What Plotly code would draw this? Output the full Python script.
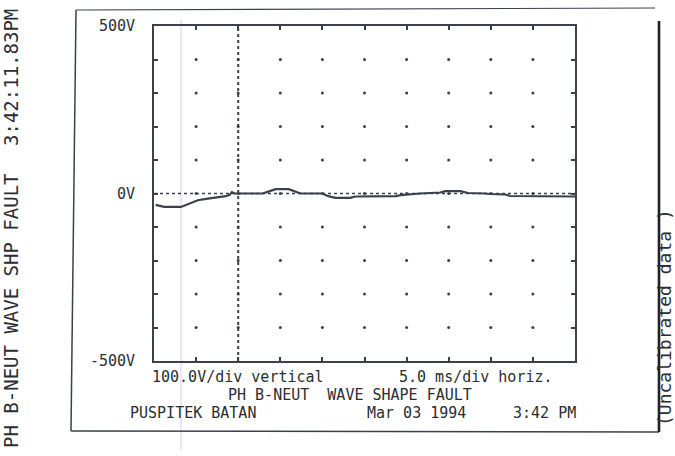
import numpy as np
import plotly.graph_objects as go

# ---- data ----
time_ms = [-9.8, -8.8, -6.8, -6.2, -4.8, -3.8, -2.65, -1.5, -1.0, -0.75, -0.4, 2.9, 3.4, 4.1, 4.45,
           6.0, 6.7, 7.4, 10.0, 10.7, 11.55, 13.3, 13.9, 18.7, 19.3, 20.2, 21.6, 24.0, 24.6, 26.4,
           27.3, 29.3, 29.9, 31.7, 32.3, 40.0]
volts = [-34, -40, -40, -34, -20, -16, -13, -8, -4, 4, 0, 0, 4, 10, 13,
         13, 7, 0, 0, -8, -13, -13, -9, -8, -5, -3, 0, 3, 7, 7,
         1.5, 0, -1.5, -3, -7.5, -9]

x_range = [-10, 40]          # 5.0 ms/div, 10 divisions
y_range = [-500, 500]        # 100 V/div, 10 divisions
y_tick_vals = [500, 0, -500]
y_tick_text = ["500V", "0V", "-500V"]

label_scale = "100.0V/div vertical"
label_time = "5.0 ms/div horiz."
label_title = "PH B-NEUT  WAVE SHAPE FAULT"
label_site = "PUSPITEK BATAN"
label_date = "Mar 03 1994"
label_clock = "3:42 PM"
side_left_a = "PH B-NEUT WAVE SHP FAULT"
side_left_b = "3:42:11.83PM"
side_right = "(Uncalibrated data )"

INK = "#3b4149"
TXT = "#2a2e33"
FONT = "DejaVu Sans Mono"

W, H = 675, 456
L, R, T, B = 154, 575, 26, 361


def px(x):
    return (x - L) / (R - L)


def py(y):
    return (B - y) / (B - T)


fig = go.Figure()

# grid dots at every division
gx = np.arange(x_range[0], x_range[1] + 0.01, 5.0)[1:-1]
gy = np.arange(y_range[0], y_range[1] + 0.01, 100.0)[1:-1]
GX, GY = np.meshgrid(gx, gy)
fig.add_trace(go.Scatter(x=GX.ravel(), y=GY.ravel(), mode="markers",
                         marker=dict(size=3, color=INK), hoverinfo="skip", showlegend=False))

# trigger and zero reference dotted lines
fig.add_shape(type="line", xref="x", yref="paper", x0=0, x1=0, y0=0, y1=1,
              line=dict(color=INK, width=2, dash="dot"))
fig.add_shape(type="line", xref="paper", yref="y", x0=0, x1=1, y0=0, y1=0,
              line=dict(color=INK, width=1.5, dash="dot"))

# waveform
fig.add_trace(go.Scatter(x=time_ms, y=volts, mode="lines",
                         line=dict(color=INK, width=2.2), hoverinfo="skip", showlegend=False))

# faint pink scan artifact
fig.add_shape(type="line", xref="paper", yref="paper", x0=px(181), x1=px(181), y0=py(20), y1=py(450),
              line=dict(color="rgba(235,190,230,0.6)", width=1.5), layer="below")

# outer frame
frame = dict(color=INK, width=1.5)
fig.add_shape(type="line", xref="paper", yref="paper", x0=px(76), y0=py(10), x1=px(71), y1=py(431), line=frame)
fig.add_shape(type="line", xref="paper", yref="paper", x0=px(76), y0=py(10), x1=px(655), y1=py(8),
              line=dict(color=INK, width=1.2))
fig.add_shape(type="line", xref="paper", yref="paper", x0=px(71), y0=py(431), x1=px(659), y1=py(432),
              line=dict(color=INK, width=1.5))
fig.add_shape(type="line", xref="paper", yref="paper", x0=px(659), y0=py(21), x1=px(659), y1=py(432),
              line=dict(color="#1e2226", width=2.6))

ann = []
tf = dict(family=FONT, size=15, color=TXT)
sf = dict(family=FONT, size=19, color=TXT)
rf = dict(family=FONT, size=18, color=TXT)
ann.append(dict(text=label_scale, x=px(151), y=py(377), xanchor="left", font=tf))
ann.append(dict(text=label_time, x=px(398), y=py(377), xanchor="left", font=tf))
ann.append(dict(text=label_title, x=px(227), y=py(395), xanchor="left", font=tf))
ann.append(dict(text=label_site, x=px(129), y=py(413), xanchor="left", font=tf))
ann.append(dict(text=label_date, x=px(366), y=py(413), xanchor="left", font=tf))
ann.append(dict(text=label_clock, x=px(512), y=py(413), xanchor="left", font=tf))
ann.append(dict(text=side_left_a, x=px(11), y=py(311), xanchor="center", textangle=-90, font=sf))
ann.append(dict(text=side_left_b, x=px(11), y=py(78), xanchor="center", textangle=-90, font=sf))
ann.append(dict(text=side_right, x=px(664), y=py(318), xanchor="center", textangle=-90, font=rf))
for a in ann:
    a.update(xref="paper", yref="paper", showarrow=False, yanchor="middle", borderpad=0)

fig.update_layout(
    width=W, height=H,
    margin=dict(l=L, r=W - R, t=T, b=H - B),
    paper_bgcolor="white", plot_bgcolor="white",
    annotations=ann,
    xaxis=dict(range=x_range, showgrid=False, zeroline=False, showline=True, linecolor=INK, linewidth=1.8,
               mirror="ticks", ticks="inside", ticklen=4, tickcolor=INK, tickwidth=1.5,
               tickvals=list(np.arange(x_range[0], x_range[1] + 0.01, 5.0)), showticklabels=False),
    yaxis=dict(range=y_range, showgrid=False, zeroline=False, showline=True, linecolor=INK, linewidth=1.8,
               mirror="ticks", ticks="inside", ticklen=4, tickcolor=INK, tickwidth=1.5,
               tickvals=y_tick_vals, ticktext=y_tick_text, ticklabelstandoff=14,
               tickfont=dict(family=FONT, size=15, color=TXT),
               minor=dict(dtick=100, ticks="inside", ticklen=4, tickcolor=INK)),
)

fig.write_html("out.html", config={"displayModeBar": False},
               post_script="document.body.style.margin='0';")
